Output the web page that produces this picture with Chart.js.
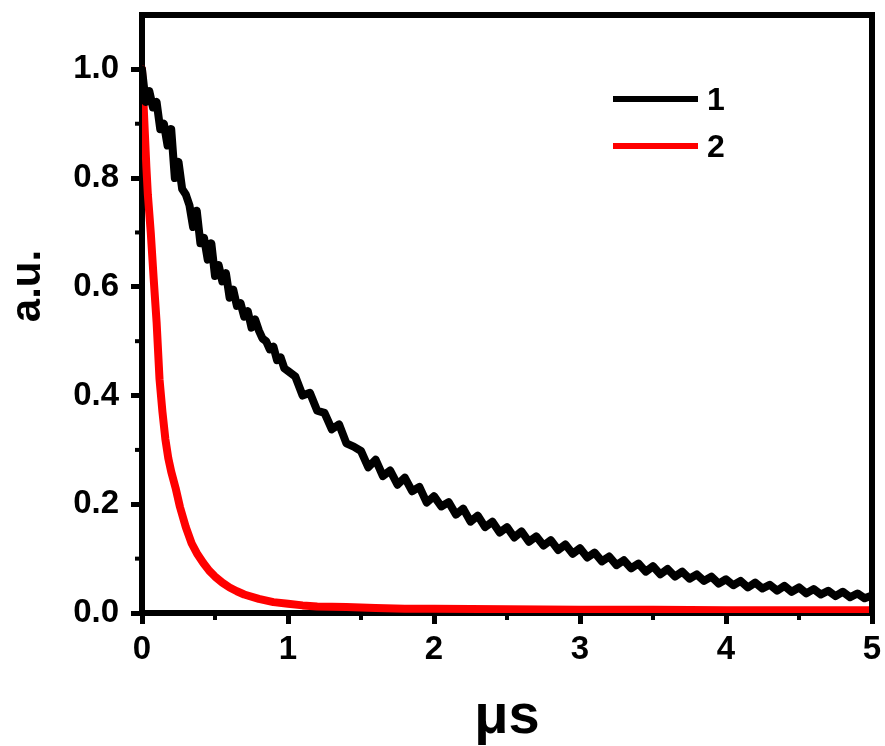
<!DOCTYPE html>
<html>
<head>
<meta charset="utf-8">
<script src="https://cdn.jsdelivr.net/npm/chart.js@4.4.0/dist/chart.umd.min.js"></script>
<style>
  html, body { margin: 0; padding: 0; background: #fff; }
</style>
</head>
<body>
<canvas id="decayChart" width="885" height="746"></canvas>
<script>
// sample 1 (black): time in µs and normalised signal
const time1 = [
  0.000, 0.025, 0.050, 0.075, 0.100, 0.125, 0.150, 0.175, 0.200, 0.225,
  0.250, 0.275, 0.300, 0.325, 0.350, 0.375, 0.400, 0.425, 0.450, 0.475,
  0.500, 0.525, 0.550, 0.575, 0.600, 0.625, 0.650, 0.675, 0.700, 0.725,
  0.750, 0.775, 0.800, 0.825, 0.850, 0.875, 0.900, 0.925, 0.950, 0.975,
  1.00, 1.05, 1.10, 1.15, 1.20, 1.25, 1.30, 1.35, 1.40, 1.45,
  1.50, 1.55, 1.60, 1.65, 1.70, 1.75, 1.80, 1.85, 1.90, 1.95,
  2.00, 2.05, 2.10, 2.15, 2.20, 2.25, 2.30, 2.35, 2.40, 2.45,
  2.50, 2.55, 2.60, 2.65, 2.70, 2.75, 2.80, 2.85, 2.90, 2.95,
  3.00, 3.05, 3.10, 3.15, 3.20, 3.25, 3.30, 3.35, 3.40, 3.45,
  3.50, 3.55, 3.60, 3.65, 3.70, 3.75, 3.80, 3.85, 3.90, 3.95,
  4.00, 4.05, 4.10, 4.15, 4.20, 4.25, 4.30, 4.35, 4.40, 4.45,
  4.50, 4.55, 4.60, 4.65, 4.70, 4.75, 4.80, 4.85, 4.90, 4.95,
  5.00
];
const signal1 = [
  1.00, 0.94, 0.96, 0.93, 0.94, 0.89, 0.90, 0.86, 0.89, 0.80,
  0.83, 0.78, 0.77, 0.75, 0.71, 0.74, 0.68, 0.69, 0.65, 0.68,
  0.62, 0.64, 0.61, 0.625, 0.58, 0.595, 0.565, 0.57, 0.545, 0.555,
  0.525, 0.54, 0.52, 0.505, 0.50, 0.485, 0.49, 0.465, 0.47, 0.45,
  0.445, 0.435, 0.40, 0.405, 0.372, 0.368, 0.338, 0.347, 0.312, 0.306,
  0.298, 0.268, 0.282, 0.252, 0.262, 0.236, 0.249, 0.224, 0.232, 0.203,
  0.215, 0.196, 0.204, 0.181, 0.192, 0.168, 0.179, 0.158, 0.168, 0.148,
  0.158, 0.139, 0.150, 0.131, 0.141, 0.124, 0.134, 0.116, 0.126, 0.109,
  0.119, 0.102, 0.111, 0.095, 0.104, 0.088, 0.097, 0.082, 0.091, 0.076,
  0.086, 0.071, 0.081, 0.067, 0.076, 0.063, 0.071, 0.059, 0.067, 0.054,
  0.062, 0.051, 0.059, 0.047, 0.056, 0.045, 0.052, 0.041, 0.050, 0.039,
  0.047, 0.036, 0.044, 0.034, 0.041, 0.031, 0.039, 0.029, 0.036, 0.027,
  0.032
];

// sample 2 (red)
const time2 = [
  0, 0.01, 0.02, 0.03, 0.04, 0.05, 0.06, 0.08, 0.10, 0.12,
  0.14, 0.16, 0.18, 0.20, 0.23, 0.26, 0.30, 0.34, 0.38, 0.42,
  0.46, 0.50, 0.55, 0.60, 0.65, 0.70, 0.80, 0.90, 1.0, 1.1,
  1.2, 1.4, 1.6, 1.8, 2.0, 2.5, 3.0, 3.5, 4.0, 4.5, 5.0
];
const signal2 = [
  1.00, 0.94, 0.88, 0.82, 0.77, 0.735, 0.70, 0.615, 0.535, 0.43,
  0.37, 0.32, 0.285, 0.26, 0.23, 0.195, 0.158, 0.128, 0.108, 0.092,
  0.078, 0.067, 0.056, 0.047, 0.04, 0.034, 0.026, 0.02, 0.017, 0.014,
  0.012, 0.011, 0.009, 0.008, 0.008, 0.007, 0.006, 0.006, 0.005, 0.005, 0.005
];

const seriesLabels = ['1', '2'];
const yTicks = [0, 0.2, 0.4, 0.6, 0.8, 1.0];
const xTicks = [0, 1, 2, 3, 4, 5];
const yMinor = [0.1, 0.3, 0.5, 0.7, 0.9];
const xMinor = [0.5, 1.5, 2.5, 3.5, 4.5];
const xTitle = 'μs';
const yTitle = 'a.u.';

const FONT = "'Liberation Sans', Arial, sans-serif";

function toPoints(xs, ys) {
  return xs.map((x, i) => ({ x: x, y: ys[i] }));
}

// top/right frame, minor ticks, axis titles and the in-plot legend
const framePlugin = {
  id: 'frame',
  afterDraw(chart) {
    const ctx = chart.ctx;
    const a = chart.chartArea;
    const xs = chart.scales.x;
    const ys = chart.scales.y;
    ctx.save();
    ctx.strokeStyle = '#000';
    ctx.lineWidth = 6;
    ctx.beginPath();
    ctx.moveTo(a.left - 3, a.top);
    ctx.lineTo(a.right, a.top);
    ctx.lineTo(a.right, a.bottom + 3);
    ctx.stroke();

    ctx.lineWidth = 4;
    yMinor.forEach(v => {
      const py = ys.getPixelForValue(v);
      ctx.beginPath();
      ctx.moveTo(a.left - 7, py);
      ctx.lineTo(a.left, py);
      ctx.stroke();
    });
    xMinor.forEach(v => {
      const px = xs.getPixelForValue(v);
      ctx.beginPath();
      ctx.moveTo(px, a.bottom);
      ctx.lineTo(px, a.bottom + 7);
      ctx.stroke();
    });

    // axis titles
    ctx.fillStyle = '#000';
    ctx.textAlign = 'center';
    ctx.textBaseline = 'alphabetic';
    ctx.font = 'bold 56px ' + FONT;
    ctx.fillText(xTitle, 507, 733);

    ctx.save();
    ctx.translate(40, 286);
    ctx.rotate(-Math.PI / 2);
    ctx.font = 'bold 42px ' + FONT;
    ctx.fillText(yTitle, 0, 0);
    ctx.restore();

    // legend
    ctx.font = 'bold 32px ' + FONT;
    ctx.textAlign = 'left';
    ctx.textBaseline = 'middle';
    chart.data.datasets.forEach((ds, i) => {
      const ly = 99 + i * 47;
      ctx.strokeStyle = ds.borderColor;
      ctx.lineWidth = 6;
      ctx.beginPath();
      ctx.moveTo(613, ly);
      ctx.lineTo(698, ly);
      ctx.stroke();
      ctx.fillStyle = '#000';
      ctx.fillText(ds.label, 707, ly + 2);
    });
    ctx.restore();
  }
};

const ctx = document.getElementById('decayChart').getContext('2d');
const decayChart = new Chart(ctx, {
  type: 'line',
  data: {
    datasets: [
      {
        label: seriesLabels[0],
        data: toPoints(time1, signal1),
        borderColor: '#000000',
        borderWidth: 8,
        pointRadius: 0,
        tension: 0,
        borderJoinStyle: 'round',
        borderCapStyle: 'round'
      },
      {
        label: seriesLabels[1],
        data: toPoints(time2, signal2),
        borderColor: '#ff0000',
        borderWidth: 8,
        pointRadius: 0,
        tension: 0,
        borderJoinStyle: 'round',
        borderCapStyle: 'round'
      }
    ]
  },
  options: {
    responsive: false,
    animation: false,
    layout: {
      padding: { top: 15, right: 13, left: 0, bottom: 0 }
    },
    plugins: {
      legend: { display: false },
      tooltip: { enabled: false }
    },
    scales: {
      x: {
        type: 'linear',
        min: 0,
        max: 5,
        afterFit(scale) {
          scale.height = 133;
          scale.paddingLeft = 0;
          scale.paddingRight = 0;
        },
        afterBuildTicks(scale) { scale.ticks = xTicks.map(v => ({ value: v })); },
        ticks: {
          color: '#000',
          font: { family: FONT, size: 33, weight: 'bold' },
          padding: 6,
          maxRotation: 0,
          callback: v => String(v)
        },
        grid: {
          drawOnChartArea: false,
          drawTicks: true,
          tickLength: 11,
          tickWidth: 5,
          tickColor: '#000'
        },
        border: { display: true, color: '#000', width: 6 }
      },
      y: {
        type: 'linear',
        min: 0,
        max: 1.1,
        afterFit(scale) {
          scale.width = 142;
          scale.paddingTop = 0;
          scale.paddingBottom = 0;
        },
        afterBuildTicks(scale) { scale.ticks = yTicks.map(v => ({ value: v })); },
        ticks: {
          color: '#000',
          font: { family: FONT, size: 33, weight: 'bold' },
          padding: 12,
          callback: v => Number(v).toFixed(1)
        },
        grid: {
          drawOnChartArea: false,
          drawTicks: true,
          tickLength: 11,
          tickWidth: 5,
          tickColor: '#000'
        },
        border: { display: true, color: '#000', width: 6 }
      }
    }
  },
  plugins: [framePlugin]
});
</script>
</body>
</html>
